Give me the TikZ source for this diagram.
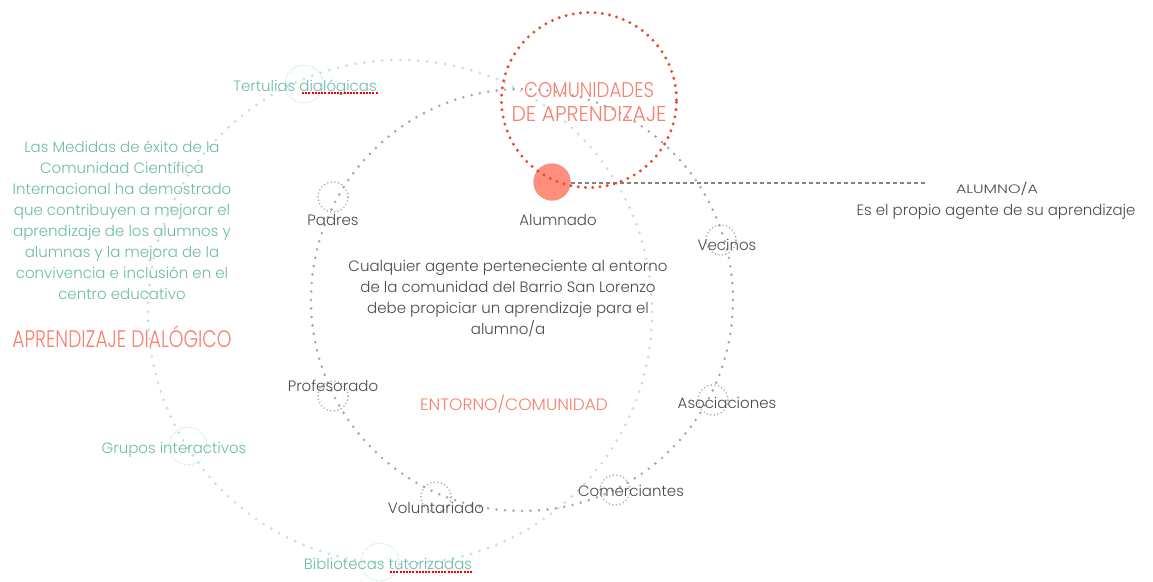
\documentclass[tikz,border=0pt]{standalone}
\usepackage{fontspec}
\setmainfont{Poppins}[UprightFont={* Light}]
\newfontfamily\condfont{Poppins}[UprightFont={* Light},FakeStretch=0.78]
\newcommand{\fitcap}[3]{\resizebox{#1}{#2}{\condfont\fontsize{21}{24}\selectfont #3}}
\definecolor{tealtxt}{HTML}{6BBBA9}
\definecolor{tealdot}{HTML}{BDE5DD}
\definecolor{tealring}{HTML}{8FDDD2}
\definecolor{salmon}{HTML}{F7806E}
\definecolor{reddot}{HTML}{F0442F}
\definecolor{graytxt}{HTML}{4A4A4A}
\definecolor{graydot}{HTML}{A4A4A4}
\definecolor{alumfill}{HTML}{FF8E7D}
\begin{document}
\begin{tikzpicture}[x=1pt,y=-1pt,
  graylbl/.style={text=graytxt,font=\fontsize{15}{21}\selectfont,inner sep=0pt,anchor=base},
  teallbl/.style={text=tealtxt,font=\fontsize{15}{21}\selectfont,inner sep=0pt,anchor=base},
  titlelbl/.style={text=salmon,inner sep=0pt,anchor=base},
  bigteal/.style={draw=tealdot,line width=3pt,line cap=round,dash pattern=on 0pt off 9pt},
  biggray/.style={draw=graydot,line width=2.8pt,line cap=round,dash pattern=on 0pt off 8.5pt},
  smallgray/.style={circle,draw=graydot,line width=1.7pt,line cap=round,dash pattern=on 0pt off 3.6pt,minimum size=30pt,inner sep=0pt},
  smallteal/.style={circle,draw=tealring,line width=1.1pt,line cap=round,dash pattern=on 0pt off 2.6pt,minimum size=38pt,inner sep=0pt},
  squiggle/.style={draw=red,line width=2.4pt,dash pattern=on 2pt off 1.2pt}
]
\useasboundingbox (0,0) rectangle (1153,581);

% big circles
\draw[bigteal] (400,312) circle [radius=252];
\draw[biggray] (522,300) circle [radius=211];

% small ring markers
\node[smallteal] (rtert) at (304,84) {};
\node[smallteal] (rgrup) at (188,446) {};
\node[smallteal] (rbibl) at (380,562) {};
\node[smallgray] (rpad) at (333,197) {};
\node[smallgray] (rprof) at (333,396) {};
\node[smallgray] (rvol) at (436,497) {};
\node[smallgray] (rcom) at (615,490) {};
\node[smallgray] (rasoc) at (713,400) {};
\node[smallgray] (rvec) at (721,240) {};

% alumnado
\node[circle,fill=alumfill,draw=graydot,line width=0.8pt,dash pattern=on 0pt off 1.6pt,line cap=round,minimum size=37pt,inner sep=0pt] (alum) at (552,182) {};
\coordinate (alumend) at (926,183);
\draw[graydot!80!black,line width=1.2pt,dash pattern=on 4pt off 3pt] (alum.east |- alumend) -- (alumend);

% comunidades circle
\node[circle,draw=reddot,line width=3.3pt,line cap=round,dash pattern=on 0pt off 7.3pt,minimum size=175pt,inner sep=0pt] (comring) at (589,100) {};
\node[titlelbl] (com1) at (589,97) {\fitcap{130pt}{15pt}{COMUNIDADES}};
\node[titlelbl] (com2) at (589,121) {\fitcap{155pt}{15pt}{DE APRENDIZAJE}};

% gray labels
\node[graylbl] (lpad) at (333,225) {Padres};
\node[graylbl] (lalum) at (558,225) {Alumnado};
\node[graylbl] (lvec) at (727,250) {Vecinos};
\node[graylbl] (lasoc) at (727,408) {Asociaciones};
\node[graylbl] (lprof) at (333,391) {Profesorado};
\node[graylbl] (lvol) at (436,513) {Voluntariado};
\node[graylbl] (lcom) at (631,496) {Comerciantes};

\node[graylbl,align=center,anchor=center] (center) at (508,299)
  {Cualquier agente perteneciente al entorno\\de la comunidad del Barrio San Lorenzo\\debe propiciar un aprendizaje para el\\alumno/a};
\node[titlelbl] (entorno) at (514,410) {\fitcap{188pt}{15.5pt}{ENTORNO/COMUNIDAD}};

% right
\node[titlelbl,text=graytxt] (alumA) at (997,193) {\fitcap{82pt}{11.5pt}{ALUMNO/A}};
\node[graylbl] (alumdesc) at (996,215) {Es el propio agente de su aprendizaje};

% teal labels
\node[teallbl] (ltert) at (305,91) {Tertulias dialógicas};
\node[teallbl] (lgrup) at (174,453) {Grupos interactivos};
\node[teallbl] (lbibl) at (388,569) {Bibliotecas tutorizadas};
\draw[squiggle] (302,93) -- (378,93);
\draw[squiggle] (390,572) -- (473,572);

\node[teallbl,align=center,anchor=center] (medidas) at (122,220)
  {Las Medidas de éxito de la\\Comunidad Científica\\Internacional ha demostrado\\que contribuyen a mejorar el\\aprendizaje de los alumnos y\\alumnas y la mejora de la\\convivencia e inclusión en el\\centro educativo};
\node[titlelbl] (dialog) at (122,347) {\resizebox{219pt}{!}{\condfont\fontsize{21}{24}\selectfont APRENDIZAJE DIALÓGICO}};
\end{tikzpicture}
\end{document}
